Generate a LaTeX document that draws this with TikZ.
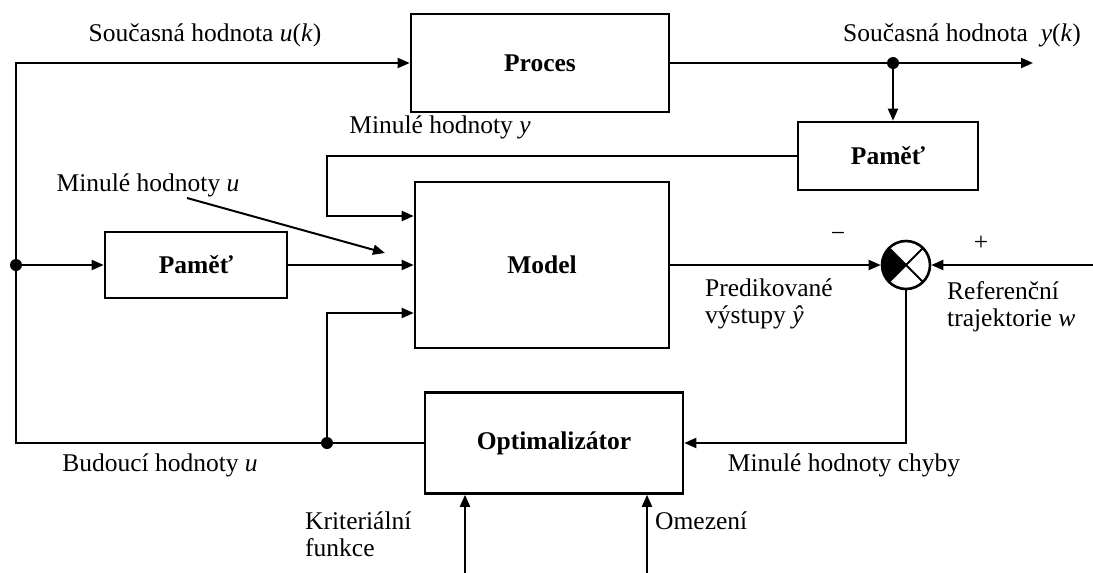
\documentclass[tikz,border=0pt]{standalone}
\usepackage{fontspec}
\setmainfont{Liberation Serif}
\usetikzlibrary{arrows.meta, positioning, calc}
\tikzset{
  blk/.style={draw, line width=2.6pt, inner sep=0pt, font=\fontsize{25.5}{30}\selectfont\bfseries},
  tra/.style={-{Triangle[length=12pt, width=10pt]}, line width=2pt},
  lin/.style={line width=2pt},
  tlab/.style={font=\fontsize{25.5}{27}\selectfont, inner sep=0pt, align=left},
  dot/.style={circle, fill, inner sep=0pt, minimum size=12pt},
  sumj/.style={circle, draw, line width=2.6pt, minimum size=48pt, inner sep=0pt}
}

\begin{document}
\begin{tikzpicture}[x=1pt, y=-1pt]
		\useasboundingbox (0,0) rectangle (1093,573);
		\node[blk, minimum width=258pt, minimum height=98pt] (proc) at (540,63) {Proces};
		\node[blk, minimum width=180pt, minimum height=68pt] (memy) at (888,156) {Paměť};
		\node[blk, minimum width=254pt, minimum height=166pt] (model) at (542,265) {Model};
		\node[blk, minimum width=182pt, minimum height=66pt] (memu) at (196,265) {Paměť};
		\node[blk, minimum width=258pt, minimum height=101pt] (opt) at (554,443) {Optimalizátor};
		\node[sumj] (sum) at (906,265) {};
		\node[dot] (d1) at (16,265) {};
		\node[dot] (d2) at (327,443) {};
		\node[dot] (d3) at (893,63) {};
		\coordinate (ltop) at (16,63);
		\coordinate (yout) at (1033,63);
		\coordinate (wref) at (1093,265);
		\coordinate (mus) at (187,198);
		\coordinate (mue) at (385,253);
		\coordinate (kf) at (465,573);
		\coordinate (om) at (647,573);
		\fill (sum.center) -- ++(135:24pt) arc[start angle=135, end angle=225, radius=24pt] -- cycle;
		\draw[lin] (sum.center) ++(45:24pt) -- ++(225:48pt);
		\draw[lin] (sum.center) ++(135:24pt) -- ++(-45:48pt);
		\draw[tra] (opt.west) -| (ltop) -- (proc.west);
		\draw[tra] (proc.east) -- (yout);
		\draw[tra] (d3) -- (d3 |- memy.north);
		\draw[tra] (memy.west) -- (memy.west -| d2) |- ($(model.west)+(0,-49)$);
		\draw[tra] (d1) -- (memu.west);
		\draw[tra] (memu.east) -- (model.west);
		\draw[tra] (d2) |- ($(model.west)+(0,48)$);
		\draw[tra] (mus) -- (mue);
		\draw[tra] (model.east) -- (sum.west);
		\draw[tra] (wref) -- (sum.east);
		\draw[tra] (sum.south) |- (opt.east);
		\draw[tra] (kf) -- (kf |- opt.south);
		\draw[tra] (om) -- (om |- opt.south);
		\node[tlab] (lu) at (205,35) {Současná hodnota \textit{u}(\textit{k})};
		\node[tlab] (ly) at (962,35) {Současná hodnota\ \ \textit{y}(\textit{k})};
		\node[tlab] (lmy) at (440,127) {Minulé hodnoty \textit{y}};
		\node[tlab] (lmu) at (148,185) {Minulé hodnoty \textit{u}};
		\node[tlab, anchor=west] (lpred) at (705,304) {Predikované\\výstupy \textit{ŷ}};
		\node[tlab, anchor=west] (lref) at (947,307) {Referenční\\trajektorie \textit{w}};
		\node[tlab] (lchyb) at (844,465) {Minulé hodnoty chyby};
		\node[tlab] (lbud) at (160,465) {Budoucí hodnoty \textit{u}};
		\node[tlab, anchor=west] (lkrit) at (305,534) {Kriteriální\\funkce};
		\node[tlab, anchor=west] (lomez) at (655,521) {Omezení};
		\node[tlab] (lminus) at (838,237) {−};
		\node[tlab] (lplus) at (981,243) {+};
	\end{tikzpicture}
\end{document}
